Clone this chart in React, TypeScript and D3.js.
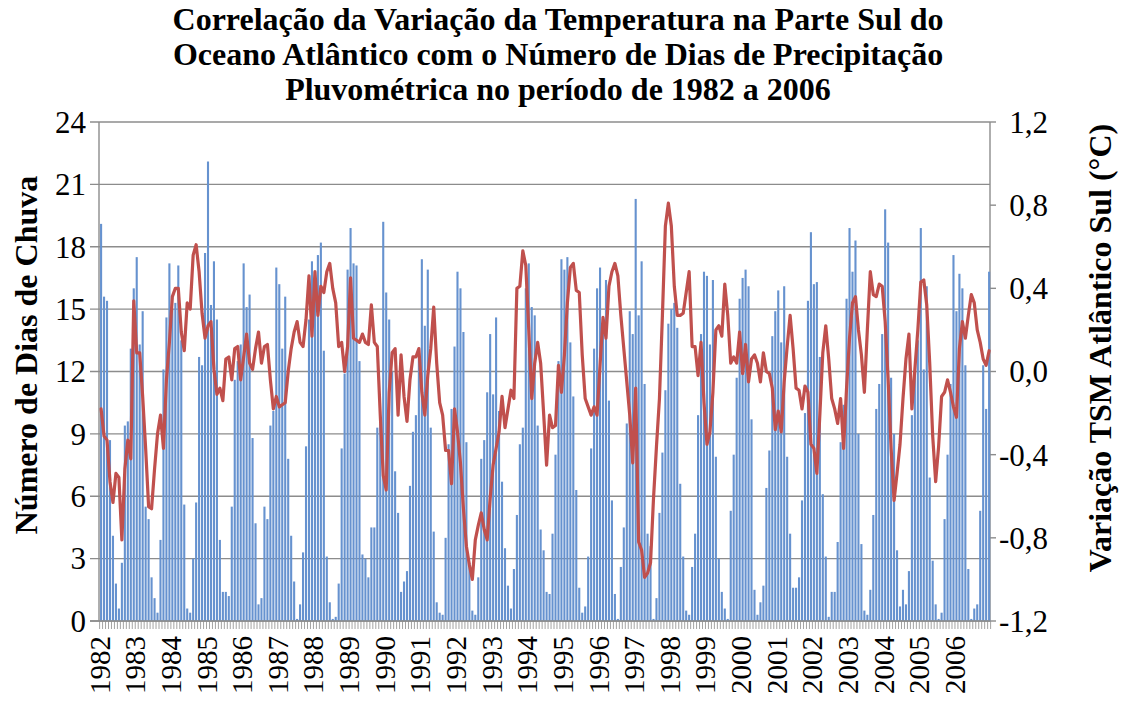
import React from "react";
import * as d3 from "d3";

// Year labels (category groups of 12 months)
const years: string[] = [
  "1982", "1983", "1984", "1985", "1986", "1987", "1988", "1989", "1990",
  "1991", "1992", "1993", "1994", "1995", "1996", "1997", "1998", "1999",
  "2000", "2001", "2002", "2003", "2004", "2005", "2006",
];
const months: string[] = ["01", "02", "03", "04", "05", "06", "07", "08", "09", "10", "11", "12"];

// Número de dias de chuva (monthly, 1982–2006)
const rainDays: number[] = [
  19.1, 15.6, 15.4, 8.7, 4.1, 1.8, 0.6, 2.8, 9.4, 9.6, 13.1, 16.0,
  17.5, 13.3, 14.9, 5.5, 4.9, 2.1, 1.1, 0.4, 3.9, 12.1, 14.6, 17.2,
  15.0, 15.3, 17.1, 13.5, 5.6, 0.6, 0.4, 3.0, 5.7, 12.7, 12.3, 17.7,
  22.1, 15.2, 17.3, 14.5, 3.9, 1.4, 1.4, 1.2, 5.5, 11.6, 12.5, 13.3,
  17.2, 15.1, 15.7, 8.8, 4.7, 0.8, 1.1, 5.5, 4.9, 9.4, 10.1, 17.0,
  16.2, 13.1, 15.6, 7.8, 4.1, 1.9, 0.1, 0.8, 3.3, 8.4, 14.5, 17.3,
  16.5, 17.6, 18.2, 13.0, 3.1, 0.9, 0.1, 0.2, 1.8, 8.3, 11.9, 16.9,
  18.9, 17.2, 17.1, 12.5, 3.2, 3.0, 2.1, 4.5, 4.5, 9.3, 9.5, 19.2,
  15.8, 14.5, 12.0, 7.2, 5.2, 1.4, 1.9, 2.4, 6.5, 9.1, 9.9, 13.0,
  17.4, 14.2, 16.9, 9.3, 4.3, 0.9, 0.4, 0.3, 4.0, 8.5, 10.2, 13.2,
  16.8, 16.0, 13.9, 8.6, 2.8, 0.5, 0.3, 2.1, 7.8, 8.7, 11.0, 13.8,
  10.9, 14.6, 10.1, 6.7, 3.5, 1.7, 0.6, 2.5, 5.1, 8.5, 9.3, 16.0,
  17.2, 15.1, 14.7, 9.4, 4.4, 3.4, 1.4, 1.3, 4.2, 8.0, 12.5, 17.4,
  16.9, 17.5, 13.4, 10.8, 6.3, 1.6, 0.4, 0.7, 3.1, 8.3, 13.1, 16.0,
  17.0, 14.4, 16.4, 10.6, 5.8, 1.3, 0.1, 2.6, 4.5, 9.5, 14.9, 13.8,
  20.3, 14.7, 17.3, 11.4, 4.2, 3.6, 0.1, 1.1, 5.2, 8.1, 11.1, 14.3,
  15.0, 15.3, 14.1, 6.6, 3.1, 0.5, 0.3, 2.6, 4.2, 9.9, 13.8, 16.8,
  16.6, 13.3, 16.4, 7.9, 3.0, 1.4, 0.6, 0.1, 5.3, 8.0, 11.7, 15.5,
  16.5, 16.9, 16.1, 9.7, 1.5, 0.3, 0.9, 1.7, 6.4, 8.2, 13.7, 14.9,
  15.9, 13.4, 16.1, 7.9, 4.2, 1.6, 1.6, 2.1, 5.8, 10.0, 15.4, 18.7,
  16.2, 16.3, 12.7, 6.1, 3.1, 0.2, 1.4, 1.4, 3.8, 8.6, 10.4, 15.5,
  18.9, 16.8, 18.3, 9.0, 3.7, 0.5, 0.3, 1.5, 5.1, 10.2, 11.4, 13.8,
  19.8, 18.2, 11.7, 9.0, 3.4, 0.7, 1.5, 0.8, 2.4, 9.9, 12.0, 13.5,
  18.9, 12.1, 16.1, 6.9, 2.9, 0.8, 0.1, 0.4, 4.9, 8.0, 11.4, 17.6,
  14.9, 16.7, 16.0, 12.3, 2.5, 0.1, 0.6, 0.8, 5.3, 12.3, 10.2, 16.8,
];

// Variação TSM Atlântico Sul (°C), monthly 1982–2006
const tsmAnomaly: number[] = [
  -0.18, -0.31, -0.33, -0.53, -0.63, -0.49, -0.51, -0.81, -0.47, -0.33, -0.42, 0.34,
  0.09, 0.09, -0.12, -0.37, -0.65, -0.66, -0.47, -0.30, -0.21, -0.37, -0.04, 0.14,
  0.36, 0.40, 0.40, 0.19, 0.10, 0.33, 0.30, 0.56, 0.61, 0.48, 0.28, 0.16,
  0.22, 0.24, 0.01, -0.11, -0.08, -0.14, 0.06, 0.07, -0.04, 0.11, 0.12, -0.04,
  0.07, 0.18, 0.04, 0.01, 0.11, 0.19, 0.04, 0.12, 0.13, -0.04, -0.18, -0.12,
  -0.17, -0.16, -0.15, 0.00, 0.11, 0.19, 0.24, 0.14, 0.12, 0.25, 0.46, 0.17,
  0.48, 0.27, 0.41, 0.38, 0.48, 0.52, 0.40, 0.33, 0.12, 0.14, 0.00, 0.12,
  0.45, 0.16, 0.15, 0.14, 0.18, 0.14, 0.13, 0.32, 0.14, 0.12, -0.21, -0.50,
  -0.57, -0.10, 0.09, 0.11, -0.21, 0.08, -0.12, -0.24, -0.04, 0.07, 0.07, 0.11,
  -0.10, -0.21, -0.02, 0.11, 0.31, 0.04, -0.15, -0.21, -0.38, -0.38, -0.54, -0.18,
  -0.29, -0.44, -0.66, -0.84, -0.93, -1.00, -0.81, -0.74, -0.68, -0.76, -0.81, -0.61,
  -0.45, -0.37, -0.29, -0.12, -0.27, -0.18, -0.09, -0.13, 0.40, 0.41, 0.58, 0.51,
  0.20, -0.13, 0.04, 0.14, 0.04, -0.20, -0.45, -0.21, -0.27, -0.26, 0.03, -0.10,
  0.08, 0.33, 0.50, 0.52, 0.39, 0.38, 0.08, -0.13, -0.17, -0.21, -0.17, -0.21,
  0.03, 0.26, 0.16, 0.41, 0.48, 0.52, 0.46, 0.27, 0.11, -0.05, -0.21, -0.44,
  -0.08, -0.82, -0.86, -0.99, -0.97, -0.92, -0.61, -0.36, -0.13, 0.27, 0.70, 0.81,
  0.70, 0.41, 0.27, 0.27, 0.28, 0.38, 0.48, 0.12, 0.12, -0.02, 0.14, -0.15,
  -0.35, -0.29, -0.10, 0.20, 0.22, 0.17, 0.42, 0.27, 0.04, 0.07, 0.04, 0.19,
  -0.01, 0.13, -0.05, 0.06, 0.08, 0.04, -0.05, 0.09, 0.00, -0.01, -0.08, -0.28,
  -0.19, -0.29, -0.05, 0.12, 0.27, 0.11, -0.08, -0.09, -0.18, -0.07, -0.10, -0.35,
  -0.37, -0.49, -0.21, 0.09, 0.22, 0.06, -0.13, -0.18, -0.25, -0.13, -0.37, -0.08,
  0.16, 0.33, 0.36, 0.20, 0.08, -0.10, 0.20, 0.48, 0.37, 0.36, 0.42, 0.41,
  0.24, -0.04, -0.37, -0.62, -0.49, -0.35, -0.13, 0.06, 0.18, -0.18, 0.01, 0.20,
  0.43, 0.44, 0.32, 0.04, -0.31, -0.53, -0.36, -0.12, -0.10, -0.04, -0.10, -0.17,
  -0.22, 0.11, 0.24, 0.16, 0.27, 0.37, 0.33, 0.20, 0.14, 0.06, 0.03, 0.10,
];

const leftTicks: number[] = [0, 3, 6, 9, 12, 15, 18, 21, 24];
const rightTicks: number[] = [-1.2, -0.8, -0.4, 0.0, 0.4, 0.8, 1.2];

const titleLines: string[] = [
  "Correlação da Variação da Temperatura na Parte Sul do",
  "Oceano Atlântico com o Número de Dias de Precipitação",
  "Pluvométrica no período de 1982 a 2006",
];
const leftTitle = "Número de Dias de Chuva";
const rightTitle = "Variação TSM Atlântico Sul (°C)";

const categories: string[] = years.flatMap((y) => months.map((m) => `${y}-${m}`));

const SERIF = "'Liberation Serif', 'Times New Roman', Times, serif";

export default function App() {
  const W = 1126;
  const H = 704;
  const left = 99;
  const right = 990;
  const top = 122;
  const bottom = 621;
  const grid = "#8c8c8c";

  const x = d3.scaleBand<string>().domain(categories).range([left + 0.6, right + 0.6]).padding(0);
  const step = x.step();
  const cx = (c: string) => (x(c) as number) + step / 2;
  const yL = d3.scaleLinear().domain([0, 24]).range([bottom, top]);
  const yR = d3.scaleLinear().domain([-1.2, 1.2]).range([bottom, top]);

  const line = d3
    .line<number>()
    .x((_, i) => cx(categories[i]))
    .y((d) => yR(d));

  const fmt = (v: number) => v.toFixed(1).replace(".", ",");
  const barW = 2.1;
  const tickFont = 31;

  return (
    <svg
      width={W}
      height={H}
      style={{ position: "absolute", left: 0, top: 0, background: "#fff", fontFamily: SERIF }}
    >
      {/* title */}
      {titleLines.map((t, i) => (
        <text
          key={t}
          x={558}
          y={30 + i * 35}
          textAnchor="middle"
          fontWeight="bold"
          fontSize={32}
          fontFamily={SERIF}
        >
          {t}
        </text>
      ))}

      {/* gridlines */}
      {leftTicks.map((t) => (
        <line key={"g" + t} x1={left - 9} x2={right} y1={yL(t)} y2={yL(t)} stroke={grid} strokeWidth={1.4} />
      ))}
      {leftTicks.map((t) => (
        <text key={"l" + t} x={86} y={yL(t)} dy="0.35em" textAnchor="end" fontSize={tickFont} fontFamily={SERIF}>
          {t}
        </text>
      ))}

      {/* right axis */}
      <line x1={right} x2={right} y1={top} y2={bottom} stroke={grid} strokeWidth={1.4} />
      {rightTicks.map((t) => (
        <g key={"r" + t}>
          <line x1={right} x2={right + 6} y1={yR(t)} y2={yR(t)} stroke={grid} strokeWidth={1.4} />
          <text x={1048} y={yR(t)} dy="0.35em" textAnchor="end" fontSize={tickFont} fontFamily={SERIF}>
            {fmt(t)}
          </text>
        </g>
      ))}

      {/* bars */}
      {rainDays.map((v, i) => (
        <rect
          key={"b" + i}
          x={cx(categories[i]) - barW / 2}
          y={yL(v)}
          width={barW}
          height={yL(0) - yL(v)}
          fill="#6692cf"
        />
      ))}

      {/* left axis line */}
      <line x1={left} x2={left} y1={top} y2={bottom} stroke={grid} strokeWidth={1.4} />
      {/* bottom axis with category ticks */}
      <line x1={left - 9} x2={right} y1={bottom} y2={bottom} stroke={grid} strokeWidth={1.4} />
      {d3.range(categories.length + 1).map((k) => {
        const xx = (x(categories[0]) as number) + k * step;
        return <line key={"t" + k} x1={xx} x2={xx} y1={bottom} y2={bottom + 8} stroke={grid} strokeWidth={0.8} />;
      })}

      {/* TSM line */}
      <path
        d={line(tsmAnomaly) || ""}
        fill="none"
        stroke="#c0504d"
        strokeWidth={3.2}
        strokeLinejoin="round"
        strokeLinecap="round"
      />

      {/* x labels */}
      {years.map((yr, k) => {
        const xx = cx(categories[k * 12]) - 1.5;
        return (
          <text
            key={"x" + yr}
            transform={`translate(${xx + 10},${636}) rotate(-90)`}
            textAnchor="end"
            fontSize={29}
            fontFamily={SERIF}
          >
            {yr}
          </text>
        );
      })}

      {/* axis titles */}
      <text
        transform={`translate(37,${355}) rotate(-90)`}
        textAnchor="middle"
        fontWeight="bold"
        fontSize={32}
        fontFamily={SERIF}
      >
        {leftTitle}
      </text>
      <text
        transform={`translate(1111,${348}) rotate(-90)`}
        textAnchor="middle"
        fontWeight="bold"
        fontSize={32}
        fontFamily={SERIF}
      >
        {rightTitle}
      </text>
    </svg>
  );
}
